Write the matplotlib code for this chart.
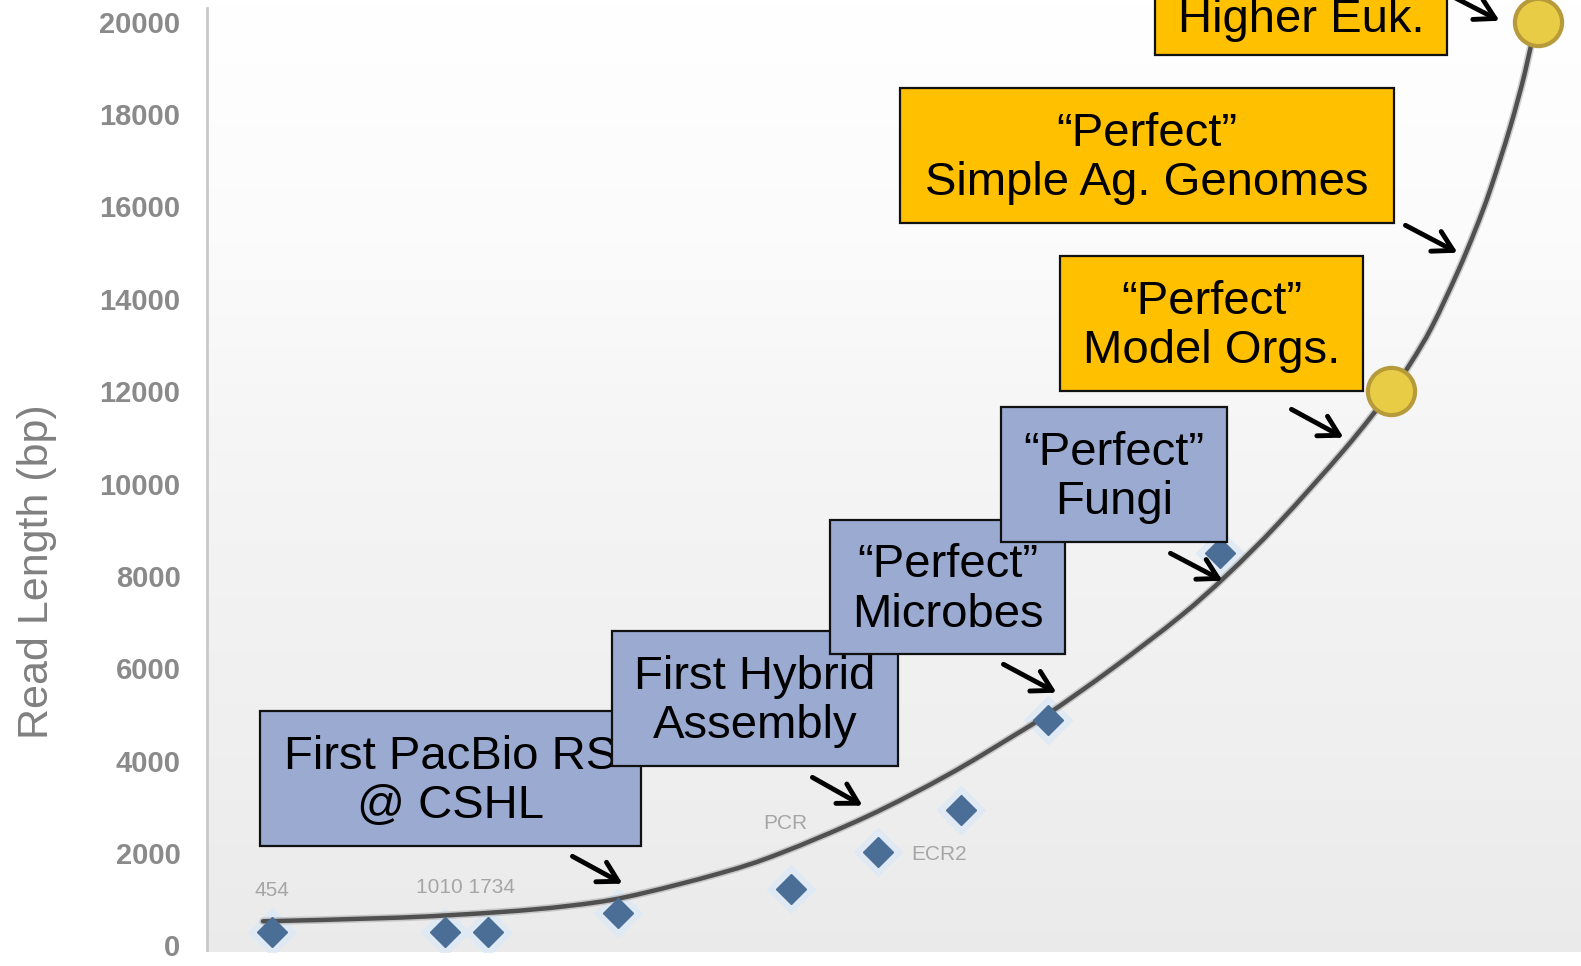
import numpy as np
import matplotlib
matplotlib.use("Agg")
import matplotlib.pyplot as plt
from matplotlib.patches import Rectangle, FancyArrowPatch, PathPatch
from matplotlib.path import Path
import matplotlib.patheffects as pe

# ---------------- data ----------------
# x is an arbitrary time-like axis (0..100), y is read length in bp
run_x = [4.73, 17.3, 20.45, 29.9, 42.5, 48.8, 54.9, 61.2, 73.7]
run_len = [290, 290, 290, 700, 1220, 2020, 2930, 4880, 8500]
run_labels = ["454", "1010 1734", "", "", "PCR", "ECR2", "", "", ""]

goal_x = [86.2, 96.9]
goal_len = [12000, 20000]

trend_x = [4.08, 14.05, 21.32, 26.20, 30.57, 37.34, 41.70, 48.11, 53.86,
           58.66, 61.21, 65.94, 70.82, 74.24, 78.02, 82.82, 86.17, 87.63,
           89.16, 90.98, 92.29, 93.38, 94.83, 95.92, 96.65]
trend_len = [520, 600, 720, 850, 1050, 1560, 1990, 2800, 3680,
             4530, 5009, 6005, 7120, 8020, 9150, 10750, 12000, 12620,
             13400, 14550, 15480, 16350, 17700, 18900, 19908]

y_ticks = [0, 2000, 4000, 6000, 8000, 10000, 12000, 14000, 16000, 18000, 20000]
y_label = "Read Length (bp)"

callouts = ["First PacBio RS\n@ CSHL", "First Hybrid\nAssembly",
            "\u201cPerfect\u201d\nMicrobes", "\u201cPerfect\u201d\nFungi",
            "\u201cPerfect\u201d\nModel Orgs.",
            "\u201cPerfect\u201d\nSimple Ag. Genomes", "Higher Euk."]

# ---------------- figure ----------------
W, H = 1581, 966
plt.rcParams['font.family'] = ['Liberation Sans', 'DejaVu Sans']
fig = plt.figure(figsize=(W / 100, H / 100), dpi=100)
fig.patch.set_facecolor("white")

ax_left, ax_bottom_px = 207, 952
ax = fig.add_axes([ax_left / W, 1 - ax_bottom_px / H, 1 - ax_left / W, ax_bottom_px / H])
ax.set_xlim(0, 100)
ax.set_ylim(-145, 20470)

# background gradient
grad = np.linspace(0, 1, 256)
vals = np.interp(grad, [0, 0.25, 0.5, 0.8, 1.0], [1.0, 0.985, 0.958, 0.937, 0.92])
img = np.dstack([vals, vals, vals])[::-1].reshape(256, 1, 3)
img = np.repeat(img, 2, axis=1)
ax.imshow(img, extent=[0, 1, 0, 1], transform=ax.transAxes, aspect='auto',
          zorder=0, interpolation='bilinear')

for s in ["top", "right", "bottom"]:
    ax.spines[s].set_visible(False)
ax.spines["left"].set_color("#c9c9c9")
ax.spines["left"].set_linewidth(2)
ax.spines["left"].set_bounds(-100, 20300)
ax.set_xticks([])
ax.set_yticks(y_ticks)
ax.set_yticklabels([str(t) for t in y_ticks])
ax.tick_params(axis='y', length=0, pad=19, labelsize=21, labelcolor="#8a8a8a")
for t in ax.get_yticklabels():
    t.set_fontweight('bold')
ax.set_ylabel(y_label, fontsize=31, color="#808080")
ax.yaxis.set_label_coords(-(207 - 57) / (W - 207), 0.40)

# trend curve: smooth path through the read points (Catmull-Rom as Bezier)
P = np.column_stack([trend_x, trend_len]).astype(float)
verts = [P[0]]
codes = [Path.MOVETO]
n = len(P)
for i in range(n - 1):
    p0 = P[i - 1] if i > 0 else P[i]
    p1, p2 = P[i], P[i + 1]
    p3 = P[i + 2] if i + 2 < n else P[i + 1]
    verts += [p1 + (p2 - p0) / 6, p2 - (p3 - p1) / 6, p2]
    codes += [Path.CURVE4] * 3
curve = PathPatch(Path(verts, codes), fill=False, edgecolor="#505050", lw=3.2,
                  capstyle='round', zorder=3,
                  path_effects=[pe.Stroke(linewidth=5.5, foreground="#b0b0b0", alpha=0.6),
                                pe.Normal()])
ax.add_patch(curve)

# run points
ax.plot(run_x, run_len, linestyle='none', marker='D', markersize=24,
        color="#dde9f6", alpha=0.8, zorder=2)
ax.plot(run_x, run_len, linestyle='none', marker='D', markersize=15,
        color="#4b6e97", zorder=4)
label_offsets = {"454": (0, 30, 'center'), "1010 1734": (15, 32, 'center'),
                 "PCR": (-4, 47, 'center'), "ECR2": (24, -2, 'left')}
for xv, yv, lab in zip(run_x, run_len, run_labels):
    if lab:
        dx, dy, ha = label_offsets[lab]
        ax.annotate(lab, (xv, yv), xytext=(dx, dy), textcoords='offset points',
                    fontsize=15, color="#a6a6a6", ha=ha, va='center', zorder=2)

# goal points
ax.plot(goal_x, goal_len, linestyle='none', marker='o', markersize=34,
        markerfacecolor="#e9cc45", markeredgecolor="#b79a3a", markeredgewidth=3,
        zorder=5)

# ---------------- callout boxes (pixel layout) ----------------
def fx(x):
    return x / W

def fy(y):
    return 1 - y / H

gold = "#FFC000"
blue = "#9AAAD1"
boxes = [  # x0, y0, x1, y1, color
    (260, 711, 641, 846, blue),
    (612, 631, 898, 766, blue),
    (830, 520, 1065, 654, blue),
    (1001, 407, 1227, 542, blue),
    (1060, 256, 1363, 391, gold),
    (900, 88, 1394, 223, gold),
    (1155, -80, 1447, 55, gold),
]
for i, ((x0, y0, x1, y1, c), txt) in enumerate(zip(boxes, callouts)):
    z = 10 + 2 * i
    fig.add_artist(Rectangle((fx(x0), fy(y1)), (x1 - x0) / W, (y1 - y0) / H,
                             transform=fig.transFigure, facecolor=c,
                             edgecolor="#111111", lw=1.6, zorder=z))
    cy = (y0 + y1) / 2 + 3
    if i == 6:
        cy = 20
    fig.text(fx((x0 + x1) / 2), fy(cy), txt, ha='center', va='center',
             fontsize=34, color="black", linespacing=1.15, zorder=z + 1)

arrows = [
    (570, 855, 625, 885),
    (810, 776, 865, 807),
    (1001, 663, 1059, 694),
    (1168, 552, 1225, 582),
    (1289, 408, 1346, 439),
    (1403, 224, 1460, 254),
    (1440, -10, 1502, 22),
]
for x0, y0, x1, y1 in arrows:
    fig.add_artist(FancyArrowPatch((fx(x0), fy(y0)), (fx(x1), fy(y1)),
                                   transform=fig.transFigure,
                                   arrowstyle='->,head_length=0.7,head_width=0.4',
                                   mutation_scale=20, lw=3.5, color="black",
                                   zorder=30))

fig.savefig("out.png", dpi=100)
